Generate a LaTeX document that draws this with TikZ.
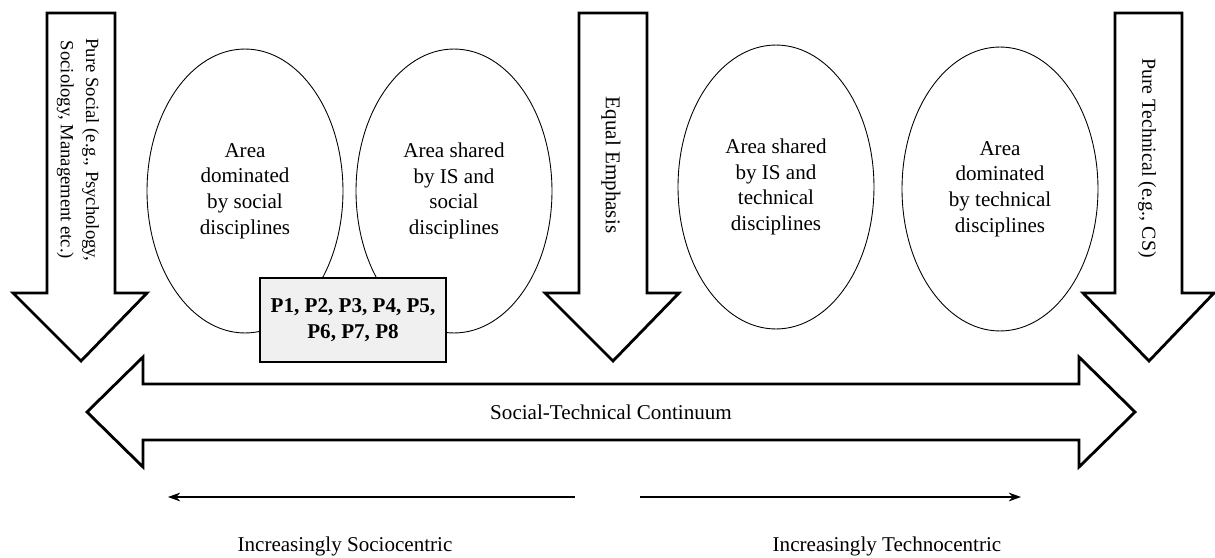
\documentclass[tikz,border=0pt]{standalone}
\usepackage{fontspec}
\setmainfont{Liberation Serif}
\usetikzlibrary{shapes.geometric, arrows.meta, positioning, calc}

\begin{document}
\begin{tikzpicture}[
    x=0.02cm, y=-0.02cm,
    font=\fontsize{12}{14.6}\selectfont,
    area/.style={ellipse, draw, line width=0.5pt, align=center, inner sep=0pt, minimum width=3.92cm, minimum height=5.68cm},
    pbox/.style={rectangle, draw, line width=1.6pt, fill=gray!12, align=center, minimum width=3.72cm, minimum height=1.68cm, font=\fontsize{12}{14.6}\selectfont\bfseries},
    blockarrow/.style={draw, line width=1.6pt, line join=miter, fill=white},
    vlabel/.style={rotate=-90, align=center},
    thinline/.style={draw, line width=0.6pt, -{Stealth[length=7pt, width=5pt]}}
]
    \useasboundingbox (0,0) rectangle (1215,558);

    % Areas along the continuum
    \node [area] (socialarea) at (245,191) {Area\\dominated\\by social\\disciplines};
    \node [area] (sharedsocial) at (454,191) {Area shared\\by IS and\\social\\disciplines};
    \node [area] (sharedtech) at (776,187) {Area shared\\by IS and\\technical\\disciplines};
    \node [area] (techarea) at (1000,189) {Area\\dominated\\by technical\\disciplines};

    % Downward block arrows
    \path [blockarrow] (47,13) -- (115,13) -- (115,293) -- (147,293) -- (81,361) -- (13,293) -- (47,293) -- cycle;
    \path [blockarrow] (579,13) -- (647,13) -- (647,293) -- (679,293) -- (613,361) -- (545,293) -- (579,293) -- cycle;
    \path [blockarrow] (1115,13) -- (1182,13) -- (1182,293) -- (1214,293) -- (1149,361) -- (1083,293) -- (1115,293) -- cycle;
    \node [vlabel, font=\fontsize{10.6}{14.4}\selectfont] (puresocial) at (78,150) {Pure Social (e.g., Psychology,\\Sociology, Management etc.)};
    \node [vlabel] (equal) at (611,165) {Equal Emphasis};
    \node [vlabel, font=\fontsize{11.3}{14.4}\selectfont] (puretech) at (1147,158) {Pure Technical (e.g., CS)};

    % Propositions
    \node [pbox] (props) at (353,320) {P1, P2, P3, P4, P5,\\P6, P7, P8};

    % Continuum double arrow
    \path [blockarrow] (87,412) -- (143,357) -- (143,384) -- (1079,384) -- (1079,357) -- (1135,412)
        -- (1079,467) -- (1079,440) -- (143,440) -- (143,467) -- cycle;
    \node (continuum) at (611,412) {Social-Technical Continuum};

    % Direction arrows
    \coordinate (socioStart) at (575,497);
    \coordinate (socioEnd) at (168,497);
    \coordinate (techStart) at (640,497);
    \coordinate (techEnd) at (1021,497);
    \path [thinline] (socioStart) -- (socioEnd);
    \path [thinline] (techStart) -- (techEnd);
    \node (socio) at (345,546) {Increasingly Sociocentric};
    \node (techno) at (887,546) {Increasingly Technocentric};
\end{tikzpicture}
\end{document}
